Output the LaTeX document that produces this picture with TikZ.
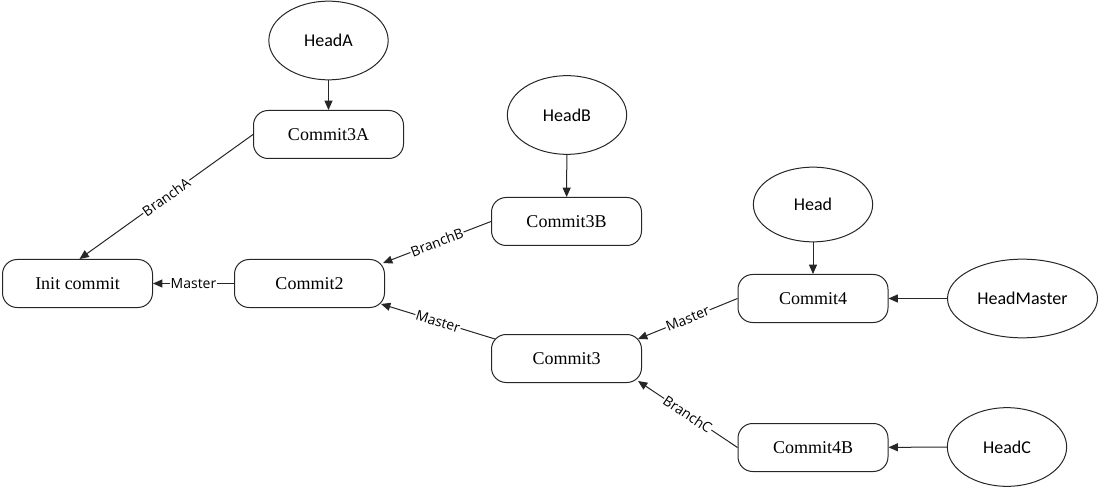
\documentclass[tikz,border=0pt]{standalone}
\usepackage{fontspec}
\setmainfont{Liberation Serif}
\newfontfamily\headfont{Carlito}
\newfontfamily\labelfont{Open Sans}
\usetikzlibrary{shapes.geometric,arrows.meta,calc}
\begin{document}
\begin{tikzpicture}[x=0.75pt,y=-0.75pt,
  commitbox/.style={draw=black!85,line width=0.75pt,rounded corners=11pt,
    minimum width=112.5pt,minimum height=36pt,inner sep=0pt,
    font=\fontsize{13.5}{15}\selectfont},
  headnode/.style={draw=black!85,line width=0.75pt,ellipse,inner sep=0pt,
    minimum width=89.5pt,minimum height=59pt,
    font=\headfont\fontsize{13.5}{15}\selectfont},
  link/.style={draw=black!85,line width=0.75pt,
    -{Triangle[length=7pt,width=6pt]}},
  linklabel/.style={sloped,fill=white,inner sep=0.6pt,
    font=\labelfont\fontsize{10.5}{12}\selectfont}]
\useasboundingbox (0,0) rectangle (1099,488);

% commits
\node[commitbox] (init) at (77.5,283.5) {Init commit};
\node[commitbox] (c2)   at (309.5,283.5) {Commit2};
\node[commitbox] (c3a)  at (328.5,134.5) {Commit3A};
\node[commitbox] (c3b)  at (566.5,221.5) {Commit3B};
\node[commitbox] (c3)   at (566.5,358.5) {Commit3};
\node[commitbox] (c4)   at (813,298.5) {Commit4};
\node[commitbox] (c4b)  at (813,447.5) {Commit4B};

% head pointers
\node[headnode] (headA) at (328.5,40.5) {HeadA};
\node[headnode] (headB) at (567,115) {HeadB};
\node[headnode,minimum height=56pt] (head) at (813,204.5) {Head};
\node[headnode,minimum width=112.5pt] (headM) at (1022.5,298.5) {HeadMaster};
\node[headnode] (headC) at (1007,447) {HeadC};

% attachment points on the commit boxes
\coordinate (initTop) at ($(init.north)+(2,0)$);
\coordinate (c2in1) at ($(c2.north east)+(-2,4)$);
\coordinate (c2in2) at ($(c2.south east)+(-4,-4)$);
\coordinate (c3out) at ($(c3.north west)+(4,5)$);
\coordinate (c3in1) at ($(c3.north east)+(-4,5)$);
\coordinate (c3in2) at ($(c3.south east)+(-4,-2)$);

% history links
\draw[link] (c3a.west) -- node[linklabel] {BranchA} (initTop);
\draw[link] (c2.west) -- node[linklabel] {Master} (init.east);
\draw[link] (c3b.west) -- node[linklabel] {BranchB} (c2in1);
\draw[link] (c3out) -- node[linklabel] {Master} (c2in2);
\draw[link] (c4.west) -- node[linklabel] {Master} (c3in1);
\draw[link] (c4b.west) -- node[linklabel] {BranchC} (c3in2);

% head references
\draw[link] (headA) -- (c3a);
\draw[link] (headB) -- (c3b);
\draw[link] (head) -- (c4);
\draw[link] (headM) -- (c4);
\draw[link] (headC) -- (c4b);
\end{tikzpicture}
\end{document}
